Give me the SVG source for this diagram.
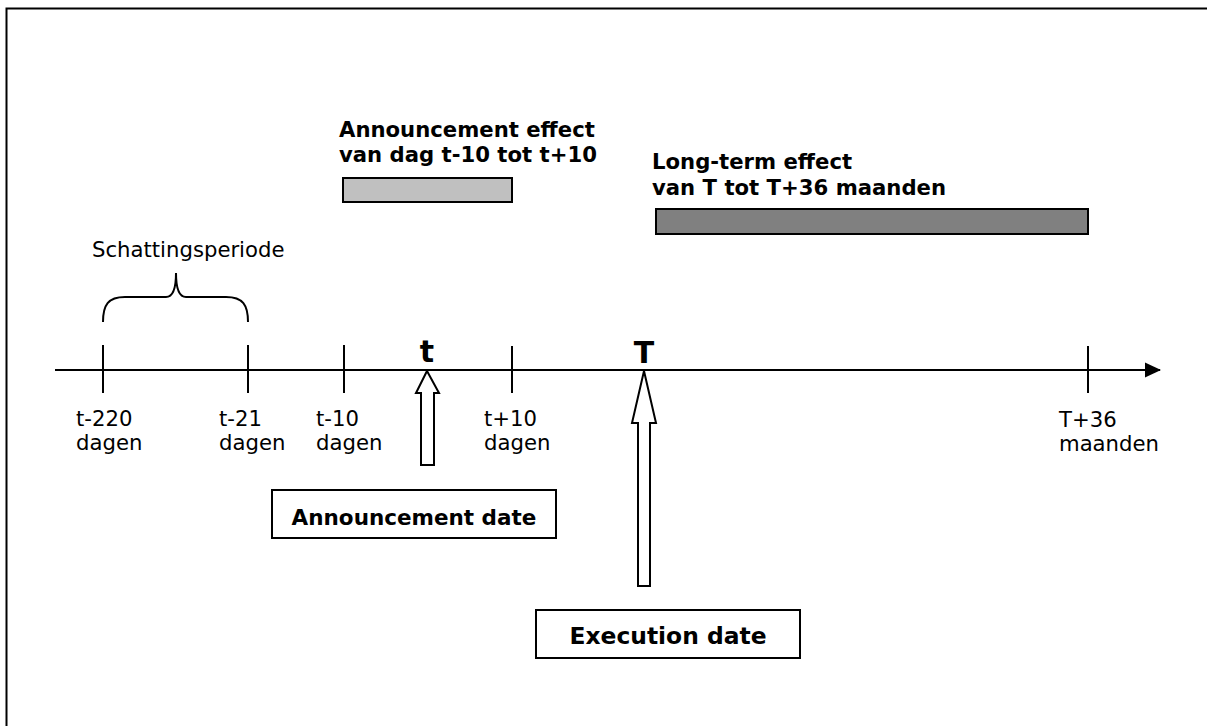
<svg xmlns="http://www.w3.org/2000/svg" width="1207" height="726" viewBox="0 0 1207 726">
<style>
.lbl{font-family:"DejaVu Sans",Verdana,sans-serif;font-size:21.2px;fill:#000}
.b{font-family:"DejaVu Sans",Verdana,sans-serif;font-weight:bold;font-size:21.2px;fill:#000}
.bx{font-family:"DejaVu Sans",Verdana,sans-serif;font-weight:bold;font-size:23px;fill:#000}
.ln{stroke:#000;stroke-width:2;fill:none}
.box{fill:#fff;stroke:#000;stroke-width:2}
</style>
<defs>
<marker id="ah" markerWidth="16" markerHeight="16" refX="15" refY="8" orient="auto" markerUnits="userSpaceOnUse">
<path d="M0,0.5 L16,8 L0,15.5 Z" fill="#000"/>
</marker>
</defs>
<rect x="6.5" y="8.5" width="1215" height="735" fill="none" stroke="#000" stroke-width="2"/>
<g id="connectors">
<line class="ln" x1="55" y1="370" x2="1160" y2="370" marker-end="url(#ah)"/>
<line class="ln" x1="103" y1="345" x2="103" y2="393"/>
<line class="ln" x1="248" y1="345" x2="248" y2="393"/>
<line class="ln" x1="344" y1="345" x2="344" y2="393"/>
<line class="ln" x1="512" y1="346" x2="512" y2="393"/>
<line class="ln" x1="1088" y1="346" x2="1088" y2="393"/>
<path class="ln" d="M103,322 C103,305 108,297 125,297 L166,297 C172,297 176,290 176,273 C176,290 180,297 186,297 L226,297 C243,297 248,305 248,322"/>
</g>
<g id="schattingsperiode">
<text class="lbl" x="92" y="257">Schattingsperiode</text>
</g>
<g id="tick-labels">
<text class="lbl" x="76" y="426">t-220</text>
<text class="lbl" x="76" y="450">dagen</text>
<text class="lbl" x="219" y="426">t-21</text>
<text class="lbl" x="219" y="450">dagen</text>
<text class="lbl" x="316" y="426">t-10</text>
<text class="lbl" x="316" y="450">dagen</text>
<text class="lbl" x="484" y="426">t+10</text>
<text class="lbl" x="484" y="450">dagen</text>
<text class="lbl" x="1059" y="427">T+36</text>
<text class="lbl" x="1059" y="451">maanden</text>
</g>
<g id="t-marker">
<text class="b" x="427" y="362" text-anchor="middle" style="font-size:30px">t</text>
<path d="M427,371 L439,393 L434,393 L434,465 L421,465 L421,393 L416,393 Z" fill="#fff" stroke="#000" stroke-width="2"/>
</g>
<g id="T-marker">
<text class="b" x="644" y="363" text-anchor="middle" style="font-size:30px">T</text>
<path d="M644,371 L656,423 L650,423 L650,586 L638,586 L638,423 L632,423 Z" fill="#fff" stroke="#000" stroke-width="2"/>
</g>
<g id="announcement-effect">
<text class="b" x="339" y="137">Announcement effect</text>
<text class="b" x="339" y="162">van dag t-10 tot t+10</text>
<rect x="343" y="178" width="169" height="24" fill="#c0c0c0" stroke="#000" stroke-width="2"/>
</g>
<g id="long-term-effect">
<text class="b" x="652" y="169">Long-term effect</text>
<text class="b" x="652" y="195">van T tot T+36 maanden</text>
<rect x="656" y="209" width="432" height="25" fill="#808080" stroke="#000" stroke-width="2"/>
</g>
<g id="announcement-date">
<rect class="box" x="272" y="490" width="284" height="48"/>
<text class="bx" x="414" y="525" text-anchor="middle" style="font-size:21.5px">Announcement date</text>
</g>
<g id="execution-date">
<rect class="box" x="536" y="610" width="264" height="48"/>
<text class="bx" x="668" y="644" text-anchor="middle" style="font-size:23.4px">Execution date</text>
</g>
</svg>
